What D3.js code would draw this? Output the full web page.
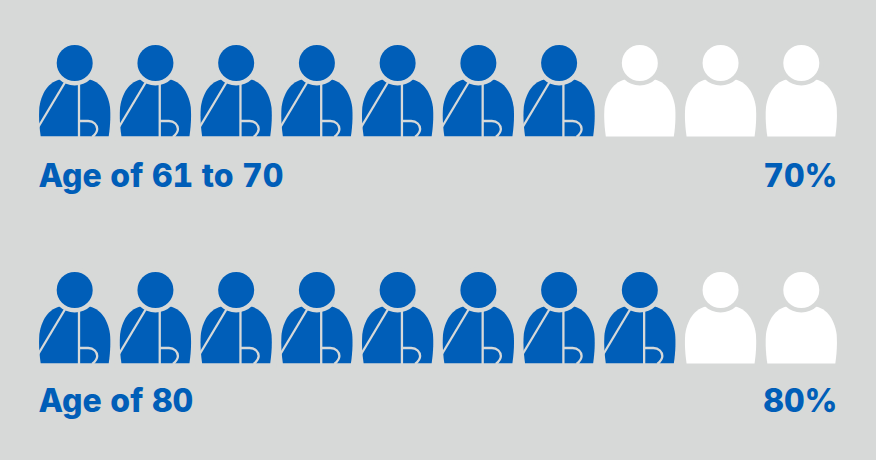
<!DOCTYPE html>
<html>
<head>
<meta charset="utf-8">
<script src="https://cdn.jsdelivr.net/npm/d3@7"></script>
<style>
  html, body { margin: 0; padding: 0; background: #d7d9d8; }
  svg { display: block; }
  text { font-family: Inter, sans-serif; font-weight: 800; fill: #005eb8; font-feature-settings: "tnum"; }
</style>
</head>
<body>
<svg id="chart"></svg>
<script>
const labels = ["Age of 61 to 70", "Age of 80"];
const percents = [70, 80];
const iconSlots = [0, 1, 2, 3, 4, 5, 6, 7, 8, 9];

const width = 876, height = 460;
const blue = "#005eb8", bg = "#d7d9d8";

const svg = d3.select("#chart").attr("width", width).attr("height", height);

// head centre of each icon
const x = d3.scalePoint().domain(iconSlots).range([74.7, 801.3]);
const y = d3.scalePoint().domain(labels).range([63, 290]);
// text baselines sit a little closer together than the icon rows
const textY = d3.scalePoint().domain(labels).range([186.5, 411.5]);
// percent -> number of filled icons
const filled = d3.scaleLinear().domain([0, 100]).range([0, iconSlots.length]);

const bodyPath = "M-34,73.5 C-36,60 -35.8,50 -35.3,44 C-33,28 -24,16 -10,16 L10,16 C24,16 33,28 35.3,44 C35.8,50 36,60 34,73.5 Z";
const slash = "M-9.5,19 L-37,65";
const arm = "M4.3,18 L4.3,74";
const pocket = "M4.3,58 L13.5,58 C19,58 22.5,62 22.5,66 C22.5,69 20,72 17.5,74";

const rows = svg.selectAll("g.row")
  .data(labels.map((label, i) => ({label, percent: percents[i]})))
  .join("g")
    .attr("class", "row")
    .attr("transform", d => `translate(0,${y(d.label)})`);

const icons = rows.selectAll("g.icon")
  .data(d => iconSlots.map(s => ({slot: s, on: s < filled(d.percent)})))
  .join("g")
    .attr("class", "icon")
    .attr("transform", d => `translate(${x(d.slot)},0)`);

icons.append("path")
  .attr("d", bodyPath)
  .attr("fill", d => d.on ? blue : "#fff");

// sling lines only on the coloured icons
const on = icons.filter(d => d.on);
on.selectAll("path.line")
  .data([slash, arm, pocket])
  .join("path")
    .attr("class", "line")
    .attr("d", d => d)
    .attr("fill", "none")
    .attr("stroke", bg)
    .attr("stroke-width", 2.3);

// clip stray sling ends below the body
on.append("rect")
  .attr("x", -40).attr("y", 73.5)
  .attr("width", 80).attr("height", 4)
  .attr("fill", bg);

// neck gap, then head
icons.append("circle").attr("r", 22.5).attr("fill", bg);
icons.append("circle")
  .attr("r", 18)
  .attr("fill", d => d.on ? blue : "#fff");

svg.selectAll("text.label")
  .data(labels)
  .join("text")
    .attr("class", "label")
    .attr("x", 38.5)
    .attr("y", d => textY(d))
    .attr("font-size", 32)
    .text(d => d);

svg.selectAll("text.pct")
  .data(percents)
  .join("text")
    .attr("class", "pct")
    .attr("x", 837.5)
    .attr("y", (d, i) => textY(labels[i]))
    .attr("text-anchor", "end")
    .attr("font-size", 32)
    .text(d => d + "%");
</script>
</body>
</html>
